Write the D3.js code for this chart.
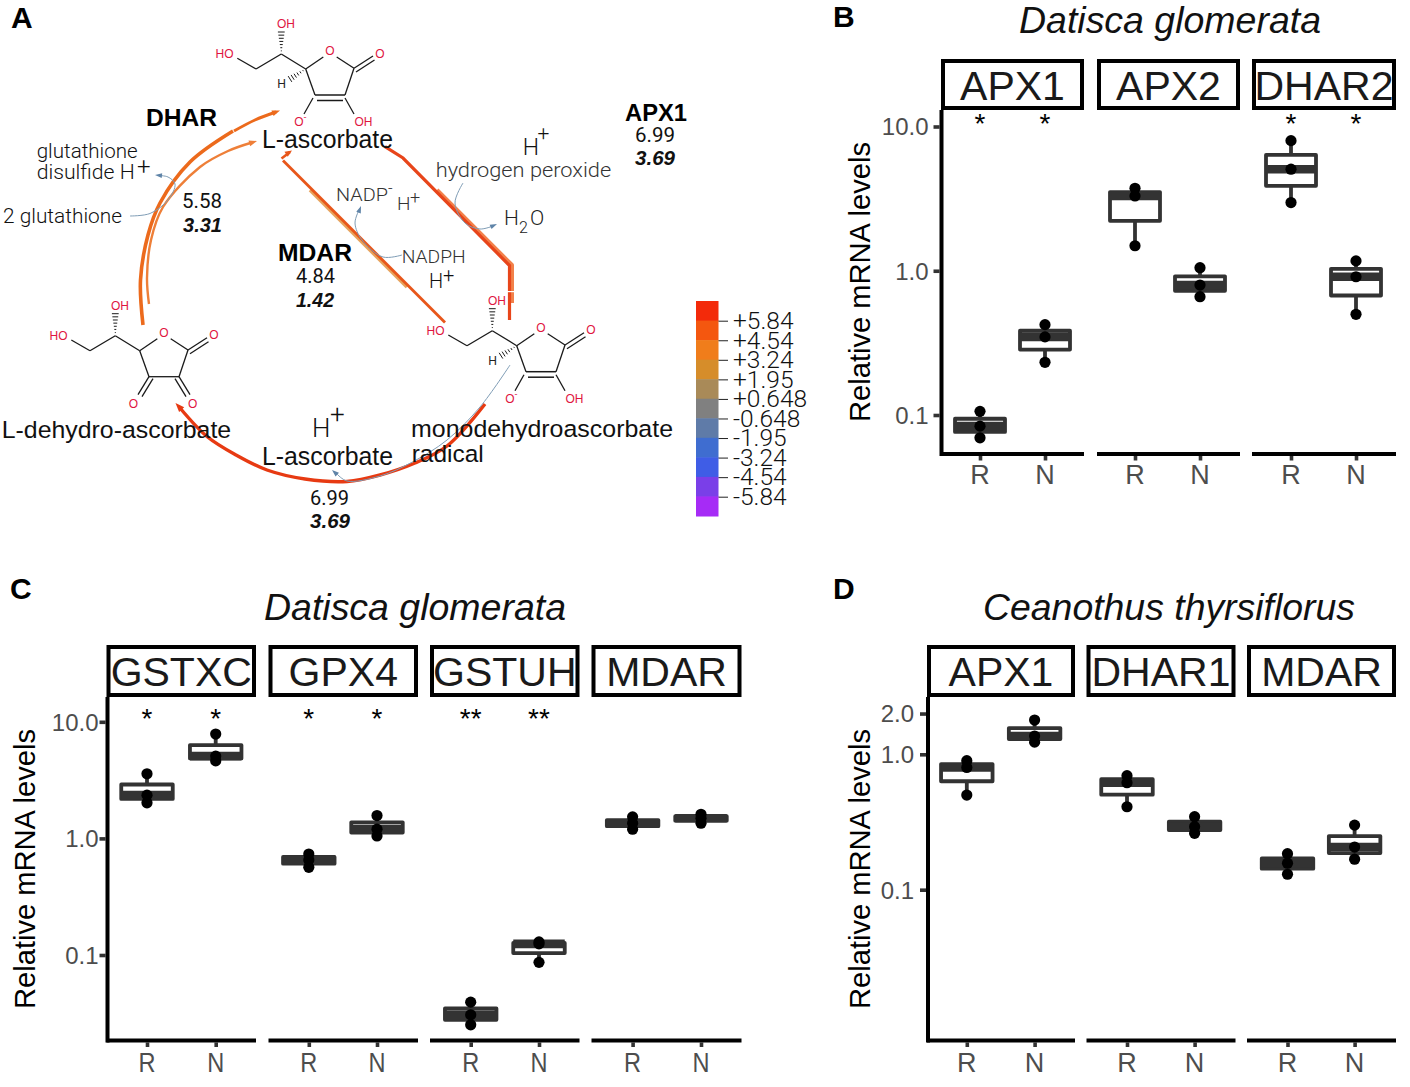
<!DOCTYPE html>
<html><head><meta charset="utf-8">
<script src="https://cdn.jsdelivr.net/npm/d3@7"></script>
<style>html,body{margin:0;padding:0;background:#fff}svg{display:block}text{font-family:"Liberation Sans",Arial,sans-serif}</style>
</head><body><div id="c"></div>
<script>
// ---------- data ----------
const groups = ['R','N'];
const genesB = ['APX1','APX2','DHAR2'];
const rootB  = [[0.106,0.0837,0.0695],[3.73,3.30,1.49],[7.98,5.06,2.97]];
const noduleB= [[0.423,0.348,0.232],[1.05,0.796,0.661],[1.17,0.909,0.499]];
const starsB = [['*','*'],['',''],['*','*']];
const ticksB = [0.1,1,10];
const genesC = ['GSTXC','GPX4','GSTUH','MDAR'];
const rootC  = [[3.58,2.35,2.02],[0.735,0.653,0.565],[0.0394,0.0307,0.0252],[1.53,1.35,1.20]];
const noduleC= [[7.85,5.08,4.63],[1.57,1.20,1.05],[0.1295,0.1245,0.0865],[1.61,1.49,1.35]];
const starsC = [['*','*'],['*','*'],['**','**'],['','']];
const ticksC = [0.1,1,10];
const genesD = ['APX1','DHAR1','MDAR'];
const rootD  = [[0.897,0.80,0.50],[0.695,0.617,0.41],[0.1845,0.157,0.130]];
const noduleD= [[1.79,1.365,1.23],[0.346,0.292,0.261],[0.30,0.2066,0.168]];
const starsD = [['',''],['',''],['','']];
const ticksD = [0.1,1,2];
const foldLabels = ['+5.84','+4.54','+3.24','+1.95','+0.648','-0.648','-1.95','-3.24','-4.54','-5.84'];
const foldColors = ['#f32a0a','#f4570f','#f07d1b','#d68d2a','#a98a58','#808080','#5f7ba8','#3f6dd0','#3f5de6','#7a3fe8','#a62bf6'];

const svg = d3.select('#c').append('svg').attr('width',1410).attr('height',1087);
const sans = '"Liberation Sans",Arial,sans-serif', light = 'Roboto,"Liberation Sans",sans-serif';

function txt(x,y,s,size,o={}){
  const t = svg.append('text').attr('x',x).attr('y',y).text(s)
    .style('font-size',size+'px').style('font-family',o.font||sans)
    .attr('fill',o.fill||'#111');
  if(o.weight) t.style('font-weight',o.weight);
  if(o.italic) t.style('font-style','italic');
  if(o.anchor) t.attr('text-anchor',o.anchor);
  if(o.w) t.attr('textLength',o.w).attr('lengthAdjust','spacingAndGlyphs');
  return t;
}

// ---------- box plot panels ----------
function panel(p){
  const y = d3.scaleLog().domain([p.t0,p.t1]).range([p.y0,p.y1]);
  const g = svg.append('g');
  p.genes.forEach((gene,i)=>{
    const [sx0,sx1] = p.strips[i];
    g.append('rect').attr('x',sx0+2).attr('y',p.stripTop+2).attr('width',sx1-sx0-4).attr('height',p.stripBot-p.stripTop-4)
      .attr('fill','#fff').attr('stroke','#000').attr('stroke-width',4);
    txt((sx0+sx1)/2,p.stripBase,gene,41,{anchor:'middle',fill:'#1a1a1a'});
    const x = d3.scalePoint().domain(groups).range(p.xs[i]);
    const ax = d3.axisBottom(x).tickSize(0).tickPadding(0);
    const ag = g.append('g').attr('transform',`translate(0,${p.axisY})`).call(ax);
    ag.select('.domain').remove();
    ag.selectAll('.tick text').remove();
    ag.selectAll('.tick').append('line').attr('y1',2).attr('y2',6.5).attr('stroke','#333').attr('stroke-width',3.6);
    g.append('line').attr('x1',sx0).attr('x2',sx1).attr('y1',p.axisY).attr('y2',p.axisY).attr('stroke','#000').attr('stroke-width',4);
    groups.forEach((grp,k)=>{
      const vals = (k===0?p.root:p.nodule)[i];
      const logs = vals.map(Math.log10).sort(d3.ascending);
      const q1 = 10**d3.quantile(logs,.25), med = 10**d3.quantile(logs,.5), q3 = 10**d3.quantile(logs,.75);
      const cx = x(grp), hw = p.boxW/2;
      g.append('line').attr('x1',cx).attr('x2',cx).attr('y1',y(d3.max(vals))).attr('y2',y(d3.min(vals))).attr('stroke','#333').attr('stroke-width',3.8);
      g.append('rect').attr('x',cx-hw).attr('y',y(q3)).attr('width',2*hw).attr('height',y(q1)-y(q3))
        .attr('fill','#fff').attr('stroke','#333').attr('stroke-width',3.8).attr('stroke-linejoin','round');
      g.append('line').attr('x1',cx-hw).attr('x2',cx+hw).attr('y1',y(med)).attr('y2',y(med)).attr('stroke','#333').attr('stroke-width',8.6);
      g.selectAll(null).data(vals).enter().append('circle').attr('cx',cx).attr('cy',d=>y(d)).attr('r',5.6).attr('fill','#000');
      txt(cx,p.xLabelY,grp,27,{anchor:'middle',fill:'#4d4d4d',w:p.xW?p.xW:undefined});
      const s = p.stars[i][k];
      if(s) txt(cx,p.starY,s,28,{anchor:'middle',fill:'#000'});
    });
  });
  const yAxis = d3.axisLeft(y).tickValues(p.ticks).tickFormat(d3.format('.1f')).tickSize(0).tickPadding(0);
  const yg = g.append('g').attr('transform',`translate(${p.axisX},0)`).call(yAxis);
  yg.select('.domain').remove();
  yg.selectAll('.tick text').attr('x',-p.tickGap).attr('dy','0.35em').style('font-size','24px').style('font-family',sans).attr('fill','#4d4d4d');
  yg.selectAll('.tick').append('line').attr('x1',-2).attr('x2',-8).attr('stroke','#333').attr('stroke-width',3.6);
  g.append('line').attr('x1',p.axisX).attr('x2',p.axisX).attr('y1',p.stripBot).attr('y2',p.axisY+2).attr('stroke','#000').attr('stroke-width',4);
  txt(0,0,'Relative mRNA levels',29,{anchor:'middle',fill:'#000',w:p.titleLen}).attr('transform',`translate(${p.titleX},${p.titleY}) rotate(-90)`);
  txt(p.headX,p.headY,p.head,36,{anchor:'middle',italic:true,fill:'#111',w:p.headW});
}

panel({genes:genesB,root:rootB,nodule:noduleB,stars:starsB,ticks:ticksB,t0:0.1,t1:10,y0:415,y1:126.5,
  strips:[[941,1084],[1097,1240],[1252,1396]],stripTop:59,stripBot:110,stripBase:99.5,
  xs:[[980,1045],[1135,1200],[1291,1356]],boxW:50,axisX:941.5,axisY:454,xLabelY:484,starY:133,tickGap:13,
  titleX:870,titleY:282,titleLen:280,head:'Datisca glomerata',headX:1170,headY:33,headW:302});
panel({genes:genesC,root:rootC,nodule:noduleC,stars:starsC,ticks:ticksC,t0:0.1,t1:10,y0:955,y1:721.8,
  strips:[[106.5,256],[268.5,418],[430,579.5],[591.5,741.5]],stripTop:645,stripBot:697,stripBase:686,
  xs:[[147,215.7],[308.8,377],[470.7,539],[632.6,701]],boxW:51.5,axisX:107.5,axisY:1040.5,xLabelY:1072,starY:728,tickGap:9,xW:17,
  titleX:35,titleY:869,titleLen:280,head:'Datisca glomerata',headX:415,headY:620,headW:302});
panel({genes:genesD,root:rootD,nodule:noduleD,stars:starsD,ticks:ticksD,t0:0.1,t1:1,y0:889.7,y1:754.3,
  strips:[[927,1075],[1086.5,1235.5],[1247,1396]],stripTop:645,stripBot:697,stripBase:686,
  xs:[[966.8,1034.6],[1127,1194.6],[1287.5,1354.6]],boxW:51.5,axisX:928,axisY:1040.5,xLabelY:1072,starY:730,tickGap:14,
  titleX:870,titleY:869,titleLen:280,head:'Ceanothus thyrsiflorus',headX:1169,headY:620,headW:372});

// ---------- panel letters ----------
[['A',11,28],['B',833,27],['C',10,599],['D',833,599]].forEach(([s,x,y])=>txt(x,y,s,30,{weight:700,fill:'#000'}));

// ---------- colour key ----------
const band = d3.scaleBand().domain(d3.range(foldColors.length)).range([301,516]);
svg.append('g').selectAll('rect').data(foldColors).enter().append('rect')
  .attr('x',696).attr('width',22.5).attr('y',(d,i)=>band(i)).attr('height',band.bandwidth()+.5).attr('fill',d=>d);
const keyScale = d3.scalePoint().domain(foldLabels).range([320.7,496.7]);
const kg = svg.append('g').attr('transform','translate(718.5,0)').call(d3.axisRight(keyScale).tickSize(9.5).tickPadding(5));
kg.select('.domain').remove();
kg.selectAll('.tick line').attr('stroke','#222').attr('stroke-width',1);
kg.selectAll('.tick text').style('font-size','24.5px').style('font-family',light).style('font-weight',300).attr('fill','#111');

// ---------- pathway diagram ----------
const curve = d3.line().curve(d3.curveCatmullRom.alpha(.5));
function path(pts,col,w,o={}){
  return svg.append('path').attr('d',o.straight?d3.line()(pts):curve(pts)).attr('fill','none').attr('stroke',col).attr('stroke-width',w).attr('stroke-linejoin',o.join||'round').attr('stroke-linecap','butt').attr('opacity',o.op||1);
}
function head(tip,from,col,len,hw){
  const a=Math.atan2(tip[1]-from[1],tip[0]-from[0]),c=Math.cos(a),s=Math.sin(a);
  const b=[tip[0]-len*c,tip[1]-len*s];
  svg.append('polygon').attr('points',[tip,[b[0]-hw*s,b[1]+hw*c],[b[0]+hw*s,b[1]-hw*c]].map(d=>d.join(',')).join(' ')).attr('fill',col);
}
function mol(dx,dy,kind){
  const g=svg.append('g').attr('transform',`translate(${dx},${dy})`);
  const B=(a,b,c,d,w=1.3)=>g.append('line').attr('x1',a).attr('y1',b).attr('x2',c).attr('y2',d).attr('stroke','#1a1a1a').attr('stroke-width',w);
  const L=(x,y,s,col='#e0153f',fs=12,a='middle')=>g.append('text').attr('x',x).attr('y',y).attr('text-anchor',a).attr('fill',col).style('font-size',fs+'px').text(s);
  const hash=(x0,y0,x1,y1,n)=>{const dxx=x1-x0,dyy=y1-y0,l=Math.hypot(dxx,dyy),ux=-dyy/l,uy=dxx/l;
    for(let i=1;i<=n;i++){const t=i/n,w=t*3.4;B(x0+dxx*t-ux*w,y0+dyy*t-uy*w,x0+dxx*t+ux*w,y0+dyy*t+uy*w,1);}};
  B(237.3,58.3,256,69);B(256,69,281.3,54);B(281.3,54,305.7,69);hash(281.3,54,281.3,32,7);
  B(305.7,69,323.3,57);B(336.7,57,354,68.3);
  B(354,68.3,345,95);B(315,95,305.7,69);
  B(354,68.3,373,56);B(356,72,374.5,60);
  L(224.5,58.3,'HO');L(286,28.3,'OH');L(330,55,'O');L(380,57.6,'O');
  if(kind==='asc'){
    B(315,95,345,95,1.5);B(317,100.5,343,100.5,1.5);
    B(313,98,304,114);B(345,98,354,114);
    hash(305.7,69,290,79,6);
    L(281.5,88,'H','#222');
    L(299,126,'O');L(305,120,'-','#e0153f',9);L(363.5,126,'OH');
  } else {
    B(315,95,345,95);
    B(315,95,304,113);B(319,97,308,115);
    B(345,95,356,113);B(341,97,352,115);
    L(299.3,126,'O');L(358.7,126,'O');
  }
}
mol(0,0,'asc');
mol(211,276.7,'asc');
mol(-166,281.7,'dha');

const gC='#ec6a1c', gC2='#ee7f38', rC='#e8451a', tan='#e7a35c', slate='#7f9db6';
// DHAR arcs
const outer=[[143,325],[140.5,280],[148,235],[160,203],[190,162],[233,131]];
path(outer,gC,3.6);
path([[234,131],[255,120],[276,112]],gC,3);
head([280,110.5],[268,115],gC,8,3);
const inner=[[149,304],[147,278],[151,240],[163,207],[200,167],[228,151],[252,142.5]];
path(inner,gC2,2.4);
head([257,141],[247,144],gC2,8,3);
// MDAR line
path([[310,190],[407,287]],tan,3.6,{straight:true});
path([[283,160.5],[445,322.5]],'#e8561a',2.8,{straight:true});
path([[281.5,158.5],[290,152]],'#e8561a',2.6,{straight:true});
head([292,150.5],[282,157],'#e8561a',7,3);
// APX line
path([[437,190],[512,265],[512,303]],'#f2814a',4,{straight:true});
path([[385,146.7],[403,158],[509.5,265.5],[509.5,320]],rC,3.2,{straight:true,join:'miter'});
svg.append('rect').attr('x',505).attr('y',291).attr('width',11).attr('height',1.2).attr('fill','#fff');
// lower arc
const lower=[[485,404],[447,446],[415,463],[380,475],[347,481.5],[305,479],[267,470],[236,455],[207,436.5],[180,408]];
path(lower,'#e73a12',3.4);
head([175.5,403],[183,411],'#e73a12',9,3.5);
// thin reaction arrows
path([[130,216],[150,213.5],[168,200],[175,184],[168,177],[158,175.5]],slate,1);
head([155,175],[165,176],'#5f84a8',7,2.4);
path([[402,255],[383,257],[362,240],[355,223],[360,208]],slate,1);
head([361,206],[358,214],'#5f84a8',7,2.4);
path([[463,183],[455,203],[465,223],[480,229],[493,226]],slate,1);
head([497,224],[488,228],'#5f84a8',7,2.4);
path([[510,365],[480,407],[447,440],[413,461.7],[380,476],[347,481],[337,474]],slate,1);
head([332,470],[340,477],'#5f84a8',7,2.6);

// pathway labels
const LW={font:light,weight:300,fill:'#111'};
const GR={font:light,weight:300,fill:'#333'};
txt(36.7,158,'glutathione',21,{...LW,w:101});
txt(36.7,178.5,'disulfide H',21,{...LW,w:98});
txt(137,175,'+',24,LW);
txt(3,223,'2 glutathione',21,{...LW,w:119});
txt(182,208,'5.58',21,{...LW,weight:400,w:40});
txt(183,231.5,'3.31',21,{weight:700,italic:true,w:39,fill:'#111'});
txt(146,126,'DHAR',24,{weight:700,w:71,fill:'#000'});
txt(262,148,'L-ascorbate',25,{w:131,fill:'#111'});
txt(278,261,'MDAR',24,{weight:700,w:74,fill:'#000'});
txt(296,283,'4.84',21,{...LW,weight:400,w:39});
txt(296,306.5,'1.42',21,{weight:700,italic:true,w:38,fill:'#111'});
txt(336,201,'NADP',19,{...GR,w:52});
txt(388,194,'-',16,GR);
txt(397,210,'H',19,GR);
txt(410,204,'+',18,GR);
txt(401.7,263,'NADPH',19,{...GR,w:64});
txt(429,288,'H',20,LW);
txt(443,282,'+',20,LW);
txt(522.7,155,'H',23,LW);
txt(537.5,140,'+',21,LW);
txt(435.7,177,'hydrogen peroxide',21,{...GR,w:175.5});
txt(625,120.7,'APX1',24,{weight:700,w:62,fill:'#000'});
txt(635,141.7,'6.99',21,{...LW,weight:400,w:40});
txt(635,165,'3.69',21,{weight:700,italic:true,w:40,fill:'#111'});
txt(504,225,'H',21,{...LW,fill:'#222'});
txt(519,232.7,'2',16,{...LW,fill:'#222'});
txt(530,225,'O',21,{...LW,fill:'#222'});
txt(411,437,'monodehydroascorbate',24.5,{w:262,fill:'#111'});
txt(411.7,462,'radical',24.5,{w:72,fill:'#111'});
txt(1.7,437.5,'L-dehydro-ascorbate',24.5,{w:229.5,fill:'#111'});
txt(312,436.7,'H',26,{...LW,fill:'#111'});
txt(330,423,'+',26,{...LW,fill:'#111'});
txt(262,465,'L-ascorbate',25,{w:131,fill:'#111'});
txt(310,505,'6.99',21,{...LW,weight:400,w:39});
txt(310,528,'3.69',21,{weight:700,italic:true,w:40,fill:'#111'});
</script></body></html>
